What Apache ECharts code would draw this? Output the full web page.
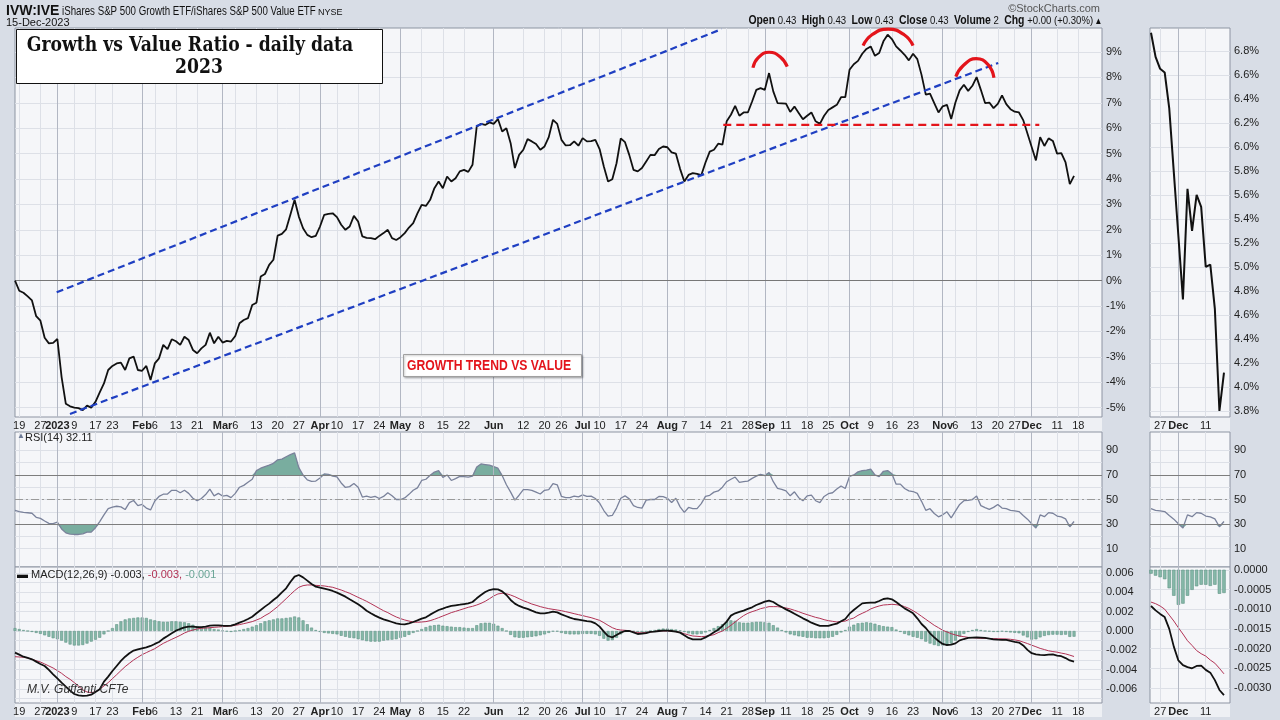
<!DOCTYPE html>
<html>
<head>
<meta charset="utf-8">
<title>Growth vs Value Ratio - daily data 2023</title>
<script src="https://cdn.jsdelivr.net/npm/echarts@6.0.0/dist/echarts.min.js"></script>
<style>
  html, body { margin: 0; padding: 0; background: #d8dde6; }
  #chart { width: 1280px; height: 720px; }
</style>
</head>
<body>
<div id="chart"></div>
<script>
// IVW:IVE ratio, % change since 16-Dec-2022, one value per trading day (index 0 = 16-Dec-2022)
const ratio = [
  0.00, -0.40, -0.48, -0.62, -0.78, -1.40, -1.58, -2.25, -2.47, -2.45,
  -2.30, -3.80, -4.85, -4.95, -5.00, -5.02, -5.10, -4.92, -5.00, -4.77,
  -4.40, -4.05, -3.52, -3.36, -3.26, -3.23, -3.52, -3.06, -2.99, -3.52,
  -3.55, -3.36, -3.91, -3.26, -3.06, -2.53, -2.70, -2.31, -2.39, -2.53,
  -2.21, -2.34, -2.73, -2.86, -2.67, -2.53, -2.05, -2.47, -2.21, -2.44,
  -2.37, -2.40, -2.18, -1.68, -1.55, -1.48, -0.96, -0.87, 0.16, 0.26,
  0.62, 0.82, 1.77, 1.84, 2.02, 2.59, 3.18, 2.52, 2.06, 1.80,
  1.71, 1.76, 2.13, 2.59, 2.63, 2.65, 2.50, 2.20, 2.00, 2.13,
  2.55, 2.33, 1.74, 1.68, 1.67, 1.63, 1.76, 1.87, 2.00, 1.67,
  1.60, 1.71, 1.87, 2.09, 2.26, 2.65, 2.98, 2.94, 3.18, 3.64,
  3.90, 3.64, 4.10, 3.90, 4.03, 4.30, 4.36, 4.28, 4.56, 6.07,
  6.17, 6.13, 6.23, 6.17, 6.36, 5.87, 6.00, 5.41, 4.43, 4.95,
  5.15, 5.57, 5.48, 5.38, 5.15, 5.28, 5.65, 6.33, 6.17, 5.54,
  5.32, 5.33, 5.48, 5.31, 5.61, 5.48, 5.49, 5.54, 5.18, 4.49,
  3.90, 3.99, 4.62, 5.60, 5.45, 4.95, 4.36, 4.30, 4.43, 4.69,
  4.95, 4.94, 5.18, 5.28, 5.25, 5.05, 5.00, 4.40, 3.90, 4.16,
  4.23, 4.20, 4.15, 4.65, 5.08, 5.15, 5.39, 5.35, 6.27, 6.53,
  6.88, 6.49, 6.62, 6.62, 7.05, 7.51, 7.58, 7.51, 8.17, 7.45,
  6.99, 6.98, 6.97, 6.64, 6.85, 6.60, 6.35, 6.49, 6.62, 6.27,
  6.17, 6.49, 6.72, 6.82, 6.92, 7.22, 7.22, 8.30, 8.52, 8.65,
  8.93, 9.12, 9.22, 8.85, 8.96, 9.42, 9.68, 9.51, 9.22, 9.06,
  8.89, 8.67, 8.93, 8.72, 8.10, 7.32, 7.36, 6.99, 6.62, 6.86,
  6.92, 6.36, 7.01, 7.49, 7.71, 7.47, 7.67, 8.01, 7.51, 6.99,
  7.01, 6.79, 6.96, 7.29, 6.95, 6.75, 6.65, 6.62, 6.32, 5.79,
  5.26, 4.73, 5.65, 5.30, 5.60, 5.50, 5.00, 5.02, 4.65, 3.80,
  4.12
];

// RSI(14)
const rsi = [
  41.2, 40.2, 39.5, 39.2, 38.8, 35.5, 34.6, 32.5, 30.6, 30.3,
  31.6, 26.0, 22.8, 21.8, 21.5, 21.5, 22.0, 23.4, 23.4, 27.0,
  32.0, 37.5, 42.6, 43.8, 44.5, 44.0, 41.8, 47.5, 49.2, 45.0,
  46.0, 43.0, 41.5, 48.8, 52.5, 54.3, 54.5, 57.5, 57.5, 55.5,
  57.5, 55.0, 51.0, 49.0, 50.8, 54.0, 58.5, 53.0, 55.0, 52.8,
  53.3, 51.5, 55.0, 60.0, 61.5, 64.0, 66.5, 73.5, 75.5, 76.8,
  78.0, 79.5, 82.3, 82.9, 84.8, 86.5, 88.0, 76.0, 70.0, 66.0,
  64.8, 65.0, 67.5, 70.8, 70.5, 69.0, 68.5, 63.5, 59.8, 60.5,
  63.0, 60.0, 52.0, 52.7, 51.8, 52.6, 50.8, 52.5, 55.5, 53.0,
  50.0, 50.0, 51.3, 54.2, 57.5, 59.5, 65.5, 66.5, 69.8, 72.3,
  73.5, 68.0, 70.0, 65.5, 67.0, 68.8, 68.6, 68.2, 69.0, 76.5,
  79.0, 78.5, 78.0, 76.8, 75.5, 69.5, 62.0, 56.0, 49.5, 53.5,
  58.0, 58.0, 57.5, 56.0, 54.5, 57.5, 58.0, 63.0, 62.0, 52.5,
  51.6, 51.6, 52.8, 52.2, 53.8, 52.5, 52.7, 50.8, 47.0, 41.0,
  36.5, 37.0, 43.0, 51.0, 53.0, 50.5, 45.0, 43.5, 43.0, 49.5,
  50.0, 50.0, 52.5, 52.3, 51.0, 47.5, 51.0, 44.0, 39.5, 43.5,
  42.6, 42.6, 46.7, 52.5, 53.4, 56.0, 57.0, 60.0, 64.5, 66.5,
  68.3, 64.0, 64.5, 65.0, 67.2, 69.0, 70.5, 69.5, 72.0, 64.5,
  59.0, 58.2, 57.0, 53.0, 56.3, 51.5, 49.0, 53.0, 53.6, 49.0,
  47.5, 52.5, 54.7, 55.5, 58.5, 61.0, 59.0, 68.8, 70.0, 72.5,
  73.6, 74.0, 74.7, 70.0, 68.6, 73.0, 73.6, 71.0, 62.5, 62.5,
  59.0, 57.0, 56.5, 55.0, 48.5, 41.2, 42.5, 38.6, 35.9, 37.5,
  40.0, 35.0, 40.5, 46.0, 49.0, 49.3, 50.0, 52.8, 45.0, 43.4,
  41.9, 43.6, 46.0, 43.0, 42.5, 41.2, 40.8, 40.2, 37.0, 34.0,
  30.2, 26.8, 37.5, 36.0, 39.3, 38.8, 36.5, 35.8, 34.2, 27.8,
  32.1
];

// MACD(12,26,9), values in thousandths
const macd = [
  -2.24, -2.45, -2.66, -2.79, -2.93, -3.17, -3.41, -3.62, -4.03, -4.48,
  -4.90, -5.34, -5.76, -6.17, -6.52, -6.66, -6.72, -6.69, -6.59, -6.31,
  -6.03, -5.24, -4.72, -4.14, -3.62, -3.10, -2.66, -2.31, -2.03, -1.90,
  -1.79, -1.69, -1.55, -1.34, -1.14, -0.79, -0.52, -0.24, 0.03, 0.21,
  0.38, 0.45, 0.45, 0.41, 0.41, 0.45, 0.55, 0.59, 0.59, 0.55,
  0.52, 0.55, 0.69, 0.86, 1.03, 1.24, 1.48, 1.83, 2.17, 2.52,
  2.83, 3.21, 3.55, 4.00, 4.41, 5.07, 5.62, 5.79, 5.55, 5.21,
  4.86, 4.59, 4.48, 4.38, 4.28, 4.14, 3.97, 3.76, 3.55, 3.28,
  3.03, 2.76, 2.45, 2.10, 1.83, 1.59, 1.38, 1.21, 1.07, 0.93,
  0.79, 0.72, 0.69, 0.79, 0.93, 1.10, 1.28, 1.41, 1.69, 1.93,
  2.17, 2.31, 2.48, 2.59, 2.66, 2.72, 2.79, 2.86, 3.00, 3.38,
  3.72, 4.03, 4.24, 4.34, 4.31, 4.10, 3.72, 3.21, 2.83, 2.59,
  2.41, 2.28, 2.10, 1.93, 1.83, 1.83, 1.90, 2.00, 1.93, 1.72,
  1.55, 1.38, 1.24, 1.17, 1.10, 1.03, 0.97, 0.79, 0.45, -0.07,
  -0.52, -0.66, -0.41, -0.17, 0.00, 0.00, -0.14, -0.31, -0.28, -0.21,
  -0.10, -0.07, 0.00, 0.03, 0.03, 0.00, -0.07, -0.17, -0.45, -0.72,
  -0.86, -0.86, -0.86, -0.66, -0.41, -0.14, 0.14, 0.52, 0.97, 1.59,
  1.83, 1.97, 2.10, 2.28, 2.45, 2.69, 2.86, 3.03, 3.14, 3.00,
  2.72, 2.48, 2.24, 2.03, 1.79, 1.55, 1.31, 1.10, 0.86, 0.69,
  0.52, 0.52, 0.52, 0.66, 0.76, 1.00, 1.24, 1.79, 2.17, 2.52,
  2.86, 2.90, 2.93, 2.93, 3.10, 3.31, 3.38, 3.28, 3.00, 2.66,
  2.34, 2.10, 1.83, 1.31, 0.72, 0.31, -0.24, -0.66, -1.03, -1.34,
  -1.45, -1.41, -1.28, -0.97, -0.83, -0.72, -0.69, -0.66, -0.69, -0.72,
  -0.79, -0.86, -0.90, -0.91, -0.92, -1.03, -1.12, -1.20, -1.50, -1.95,
  -2.30, -2.42, -2.47, -2.50, -2.44, -2.43, -2.54, -2.61, -2.80, -3.05,
  -3.18
];

// signal line, thousandths
const signal = [
  -2.66, -2.69, -2.72, -2.79, -2.93, -3.07, -3.21, -3.41, -3.62, -3.83,
  -4.10, -4.38, -4.72, -5.00, -5.34, -5.69, -6.10, -6.31, -6.38, -6.28,
  -6.03, -5.69, -5.34, -4.93, -4.52, -4.10, -3.69, -3.34, -3.00, -2.72,
  -2.45, -2.24, -2.03, -1.83, -1.55, -1.28, -1.07, -0.86, -0.66, -0.45,
  -0.21, -0.03, 0.10, 0.21, 0.28, 0.31, 0.34, 0.38, 0.41, 0.45,
  0.48, 0.52, 0.59, 0.66, 0.76, 0.86, 0.97, 1.14, 1.31, 1.59,
  1.83, 2.17, 2.52, 2.93, 3.34, 3.76, 4.17, 4.52, 4.69, 4.76,
  4.76, 4.72, 4.69, 4.66, 4.59, 4.52, 4.38, 4.24, 4.07, 3.90,
  3.69, 3.48, 3.28, 3.07, 2.83, 2.59, 2.34, 2.10, 1.90, 1.66,
  1.45, 1.28, 1.14, 1.03, 0.93, 0.90, 0.93, 0.97, 1.07, 1.21,
  1.38, 1.55, 1.72, 1.90, 2.03, 2.17, 2.31, 2.45, 2.55, 2.69,
  2.86, 3.07, 3.34, 3.62, 3.83, 3.90, 3.86, 3.72, 3.55, 3.34,
  3.14, 2.97, 2.79, 2.66, 2.52, 2.41, 2.31, 2.24, 2.17, 2.10,
  2.00, 1.90, 1.79, 1.69, 1.59, 1.48, 1.38, 1.24, 1.10, 0.86,
  0.59, 0.34, 0.17, 0.10, 0.07, 0.03, -0.10, -0.17, -0.20, -0.15,
  -0.10, -0.04, 0.00, 0.00, 0.00, -0.03, -0.07, -0.14, -0.28, -0.41,
  -0.52, -0.55, -0.59, -0.55, -0.48, -0.38, -0.17, 0.00, 0.28, 0.59,
  0.93, 1.28, 1.59, 1.83, 2.00, 2.14, 2.31, 2.41, 2.52, 2.52,
  2.52, 2.45, 2.38, 2.28, 2.14, 2.00, 1.83, 1.69, 1.55, 1.41,
  1.31, 1.17, 1.07, 1.00, 0.93, 0.97, 1.03, 1.21, 1.34, 1.62,
  1.83, 2.03, 2.28, 2.45, 2.59, 2.69, 2.72, 2.76, 2.72, 2.66,
  2.52, 2.34, 2.10, 1.83, 1.52, 1.21, 0.90, 0.59, 0.34, 0.07,
  -0.10, -0.28, -0.41, -0.52, -0.59, -0.66, -0.69, -0.72, -0.76, -0.76,
  -0.78, -0.79, -0.80, -0.81, -0.82, -0.86, -0.92, -1.00, -1.15, -1.30,
  -1.47, -1.63, -1.80, -1.92, -2.05, -2.13, -2.19, -2.29, -2.37, -2.50,
  -2.64
];

// histogram, thousandths
const hist = [
  0.30, 0.20, 0.10, 0.00, -0.10, -0.20, -0.30, -0.45, -0.60, -0.75,
  -0.85, -1.00, -1.20, -1.40, -1.50, -1.50, -1.45, -1.30, -1.10, -0.90,
  -0.70, -0.35, 0.00, 0.30, 0.70, 1.00, 1.20, 1.30, 1.35, 1.40,
  1.40, 1.35, 1.20, 1.10, 1.00, 0.95, 0.95, 1.00, 1.00, 0.95,
  0.90, 0.80, 0.65, 0.50, 0.40, 0.35, 0.35, 0.20, 0.15, 0.05,
  -0.05, -0.10, 0.00, 0.10, 0.20, 0.30, 0.45, 0.60, 0.80, 1.00,
  1.10, 1.20, 1.30, 1.30, 1.35, 1.40, 1.50, 1.40, 1.10, 0.70,
  0.35, 0.10, -0.10, -0.20, -0.25, -0.30, -0.35, -0.50, -0.60, -0.70,
  -0.75, -0.85, -0.95, -1.05, -1.10, -1.10, -1.10, -1.00, -0.95, -0.90,
  -0.85, -0.70, -0.60, -0.40, -0.20, 0.00, 0.20, 0.40, 0.55, 0.60,
  0.65, 0.55, 0.50, 0.45, 0.40, 0.40, 0.35, 0.30, 0.30, 0.60,
  0.80, 0.85, 0.85, 0.75, 0.55, 0.30, 0.00, -0.40, -0.65, -0.70,
  -0.70, -0.65, -0.60, -0.55, -0.45, -0.35, -0.20, -0.05, -0.05, -0.20,
  -0.30, -0.35, -0.35, -0.35, -0.30, -0.30, -0.30, -0.35, -0.50, -0.80,
  -1.00, -0.95, -0.70, -0.35, -0.10, 0.00, -0.05, -0.10, -0.30, -0.20,
  0.00, 0.10, 0.20, 0.25, 0.25, 0.20, 0.15, 0.05, -0.10, -0.25,
  -0.35, -0.35, -0.30, -0.15, 0.10, 0.30, 0.50, 0.70, 0.95, 1.10,
  1.05, 0.90, 0.85, 0.85, 0.90, 0.95, 0.95, 0.90, 0.85, 0.60,
  0.35, 0.10, -0.15, -0.35, -0.45, -0.55, -0.60, -0.70, -0.70, -0.75,
  -0.75, -0.75, -0.70, -0.60, -0.40, -0.15, 0.10, 0.45, 0.65, 0.80,
  0.85, 0.90, 0.85, 0.75, 0.60, 0.50, 0.45, 0.40, 0.15, -0.10,
  -0.30, -0.45, -0.60, -0.70, -0.85, -1.10, -1.30, -1.45, -1.55, -1.50,
  -1.40, -1.30, -1.00, -0.60, -0.30, -0.10, 0.10, 0.20, 0.10, 0.00,
  -0.05, -0.10, -0.10, -0.05, -0.10, -0.15, -0.19, -0.24, -0.47, -0.66,
  -0.89, -0.86, -0.66, -0.51, -0.42, -0.38, -0.38, -0.41, -0.38, -0.61,
  -0.59
];

// x axis ticks: [trading day index, label]
const monthTicks = [[10, '2023'], [30, 'Feb'], [49, 'Mar'], [72, 'Apr'], [91, 'May'], [113, 'Jun'],
  [134, 'Jul'], [154, 'Aug'], [177, 'Sep'], [197, 'Oct'], [219, 'Nov'], [240, 'Dec']];
const dayTicks = [[1, '19'], [6, '27'], [14, '9'], [19, '17'], [23, '23'], [33, '6'], [38, '13'], [43, '21'],
  [52, '6'], [57, '13'], [62, '20'], [67, '27'], [76, '10'], [81, '17'], [86, '24'], [96, '8'], [101, '15'],
  [106, '22'], [120, '12'], [125, '20'], [129, '26'], [138, '10'], [143, '17'], [148, '24'], [158, '7'],
  [163, '14'], [168, '21'], [173, '28'], [182, '11'], [187, '18'], [192, '25'], [202, '9'], [207, '16'],
  [212, '23'], [222, '6'], [227, '13'], [232, '20'], [236, '27'], [246, '11'], [251, '18']];
const zoomMonthTicks = [[240, 'Dec']];
const zoomDayTicks = [[236, '27'], [246, '11']];
const zoomStart = 234;

// y axis ticks
const pctTicks = [-5, -4, -3, -2, -1, 0, 1, 2, 3, 4, 5, 6, 7, 8, 9];
const zoomPctTicks = [3.8, 4.0, 4.2, 4.4, 4.6, 4.8, 5.0, 5.2, 5.4, 5.6, 5.8, 6.0, 6.2, 6.4, 6.6, 6.8];
const rsiLabels = [10, 30, 50, 70, 90];
const rsiGrid = [10, 20, 30, 40, 50, 60, 70, 80, 90];
const macdLabels = [-6, -4, -2, 0, 2, 4, 6];
const macdGrid = [-7, -6, -5, -4, -3, -2, -1, 0, 1, 2, 3, 4, 5, 6];
const zoomMacdTicks = [0, -0.5, -1, -1.5, -2, -2.5, -3];

// hand-drawn annotations on the ratio panel, [day index, %]
const upperChannel = [[9.84, -0.46], [166.8, 9.9]];
const lowerChannel = [[12.98, -5.25], [232.1, 8.57]];
const neckline = [[167.2, 6.13], [241.8, 6.13]];
const topArcs = [
  [[174.2, 8.38], [175.4, 8.77], [178.0, 8.99], [180.6, 8.81], [182.3, 8.42]],
  [[200.2, 9.25], [202.3, 9.68], [206.1, 9.90], [209.9, 9.68], [212.0, 9.25]],
  [[222.1, 8.03], [223.8, 8.46], [226.9, 8.74], [229.7, 8.50], [231.1, 7.99]]
];

const FONT = '"Liberation Sans", Arial, sans-serif';
const GRID_BG = '#f5f6f9';
const GRID_BORDER = '#8d94a2';
const SPLIT = '#dde0e7';
const MONTH = '#b2b7c3';

const chart = echarts.init(document.getElementById('chart'));

const labelOf = {};
monthTicks.concat(zoomMonthTicks).forEach(t => { labelOf[t[0]] = '{m|' + t[1] + '}'; });
dayTicks.concat(zoomDayTicks).forEach(t => { labelOf[t[0]] = t[1]; });

const mainTicks = monthTicks.concat(dayTicks).map(t => t[0]).sort((a, b) => a - b);
const zoomTicks = zoomMonthTicks.concat(zoomDayTicks).map(t => t[0]).sort((a, b) => a - b);

const panels = [{ top: 28, height: 389 }, { top: 432, height: 135 }, { top: 567, height: 136 }];
const gridOf = (left, width) => panels.map(p => ({
  left: left, width: width, top: p.top, height: p.height,
  show: true, backgroundColor: GRID_BG, borderColor: GRID_BORDER, borderWidth: 1
}));

const xAxisOf = (gridIndex, min, max, ticks, showLabel) => ({
  type: 'value', gridIndex: gridIndex, min: min, max: max,
  axisLine: { show: false },
  axisTick: { show: false, customValues: ticks },
  splitLine: { show: true, lineStyle: { color: SPLIT, width: 1 } },
  axisLabel: {
    show: showLabel, customValues: ticks, margin: 3,
    formatter: v => labelOf[v] || '',
    fontFamily: FONT, fontSize: 11, color: '#222',
    rich: { m: { fontFamily: FONT, fontSize: 11, fontWeight: 'bold', color: '#222' } }
  }
});

const yAxisOf = (gridIndex, min, max, grid, labels, fmt) => ({
  type: 'value', gridIndex: gridIndex, min: min, max: max, position: 'right',
  axisLine: { show: false },
  axisTick: { show: false, customValues: grid },
  splitLine: { show: true, lineStyle: { color: SPLIT, width: 1 } },
  axisLabel: {
    customValues: labels, formatter: fmt, margin: 4,
    fontFamily: FONT, fontSize: 11, color: '#222'
  }
});

const pairs = arr => arr.map((v, i) => [i, v]);
const zoomPairs = arr => pairs(arr).slice(zoomStart);

const guideLines = (xi, months, extra) => ({
  type: 'line', xAxisIndex: xi, yAxisIndex: xi, data: [], silent: true, z: 1,
  markLine: {
    silent: true, symbol: ['none', 'none'], animation: false,
    label: { show: false },
    lineStyle: { color: MONTH, width: 1, type: 'solid' },
    data: months.map(t => ({ xAxis: t[0] })).concat(extra || [])
  }
});

const rsiRefs = [
  { yAxis: 70, lineStyle: { color: '#7d7d7d', width: 1.2, type: 'solid' } },
  { yAxis: 30, lineStyle: { color: '#7d7d7d', width: 1.2, type: 'solid' } },
  { yAxis: 50, lineStyle: { color: '#9a9a9a', width: 1, type: [8, 3, 2, 3] } }
];
const zeroRef = [{ yAxis: 0, lineStyle: { color: '#777', width: 1.2, type: 'solid' } }];

const rsiSeries = (xi, data) => [
  {
    type: 'line', xAxisIndex: xi, yAxisIndex: xi, symbol: 'none', z: 2,
    data: data.map(d => [d[0], Math.max(d[1], 70)]),
    lineStyle: { width: 0, opacity: 0 },
    areaStyle: { color: '#79ad9f', opacity: 1, origin: 70 }
  },
  {
    type: 'line', xAxisIndex: xi, yAxisIndex: xi, symbol: 'none', z: 2,
    data: data.map(d => [d[0], Math.min(d[1], 30)]),
    lineStyle: { width: 0, opacity: 0 },
    areaStyle: { color: '#79ad9f', opacity: 1, origin: 30 }
  },
  {
    type: 'line', xAxisIndex: xi, yAxisIndex: xi, symbol: 'none', z: 4, data: data,
    lineStyle: { color: '#7a829b', width: 1.3 }
  }
];

const macdSeries = (xi, barW, h, m, s) => [
  {
    type: 'bar', xAxisIndex: xi, yAxisIndex: xi, data: h, barWidth: barW, z: 2,
    itemStyle: { color: '#86b8a9', borderColor: '#5f9485', borderWidth: 0.6 }
  },
  {
    type: 'line', xAxisIndex: xi, yAxisIndex: xi, symbol: 'none', z: 4, data: s,
    lineStyle: { color: '#b23355', width: 1 }
  },
  {
    type: 'line', xAxisIndex: xi, yAxisIndex: xi, symbol: 'none', z: 5, data: m,
    lineStyle: { color: '#111', width: 1.8 }
  }
];

const annotation = (data, color, width, type, smooth) => ({
  type: 'line', xAxisIndex: 0, yAxisIndex: 0, symbol: 'none', z: 6, smooth: !!smooth,
  data: data, lineStyle: { color: color, width: width, type: type }
});

const pctFmt = v => v + '%';
const rsiFmt = v => String(v);

const option = {
  animation: false,
  backgroundColor: '#d8dde6',
  grid: gridOf(15, 1087).concat(gridOf(1150, 80)),
  xAxis: [
    xAxisOf(0, 0, 256.6, mainTicks, true),
    xAxisOf(1, 0, 256.6, mainTicks, false),
    xAxisOf(2, 0, 256.6, mainTicks, true),
    xAxisOf(3, 233.78, 251.32, zoomTicks, true),
    xAxisOf(4, 233.78, 251.32, zoomTicks, false),
    xAxisOf(5, 233.78, 251.32, zoomTicks, true)
  ],
  yAxis: [
    yAxisOf(0, -5.37, 9.945, pctTicks, pctTicks, pctFmt),
    yAxisOf(1, -5, 105, rsiGrid, rsiLabels, rsiFmt),
    yAxisOf(2, -7.45, 6.62, macdGrid, macdLabels, v => (v / 1000).toFixed(3)),
    yAxisOf(3, 3.75, 6.99, zoomPctTicks, zoomPctTicks, v => v.toFixed(1) + '%'),
    yAxisOf(4, -5, 105, rsiGrid, rsiLabels, rsiFmt),
    yAxisOf(5, -3.38, 0.07, zoomMacdTicks, zoomMacdTicks, v => (v / 1000).toFixed(4))
  ],
  series: [
    guideLines(0, monthTicks, zeroRef),
    guideLines(1, monthTicks, rsiRefs),
    guideLines(2, monthTicks),
    guideLines(3, zoomMonthTicks),
    guideLines(4, zoomMonthTicks, rsiRefs),
    guideLines(5, zoomMonthTicks),
    {
      type: 'line', xAxisIndex: 0, yAxisIndex: 0, symbol: 'none', z: 5, data: pairs(ratio),
      lineStyle: { color: '#111', width: 1.8 }
    },
    {
      type: 'line', xAxisIndex: 3, yAxisIndex: 3, symbol: 'none', z: 5, data: zoomPairs(ratio),
      lineStyle: { color: '#111', width: 2 }
    },
    annotation(upperChannel, '#1f3fc2', 2.2, [7, 4]),
    annotation(lowerChannel, '#1f3fc2', 2.2, [7, 4]),
    annotation(neckline, '#e3141b', 2.2, [8, 5]),
    ...topArcs.map(a => annotation(a, '#e3141b', 3.2, 'solid', true)),
    ...rsiSeries(1, pairs(rsi)),
    ...rsiSeries(4, zoomPairs(rsi)),
    ...macdSeries(2, 3, pairs(hist), pairs(macd), pairs(signal)),
    ...macdSeries(5, 3.4, zoomPairs(hist), zoomPairs(macd), zoomPairs(signal))
  ],
  graphic: [
    // axis label strips
    { type: 'rect', shape: { x: 15, y: 417, width: 1087, height: 15 }, style: { fill: '#eef0f4' }, z: -1 },
    { type: 'rect', shape: { x: 1150, y: 417, width: 80, height: 15 }, style: { fill: '#eef0f4' }, z: -1 },
    { type: 'rect', shape: { x: 15, y: 703, width: 1087, height: 14 }, style: { fill: '#eef0f4' }, z: -1 },
    { type: 'rect', shape: { x: 1150, y: 703, width: 80, height: 14 }, style: { fill: '#eef0f4' }, z: -1 },
    // header
    { type: 'text', x: 6, y: 4, style: { text: 'IVW:IVE', font: 'bold 14px ' + FONT, fill: '#111' } },
    { type: 'text', x: 62, y: 6, scaleX: 0.81, style: { text: 'iShares S&P 500 Growth ETF/iShares S&P 500 Value ETF', font: '12px ' + FONT, fill: '#111' } },
    { type: 'text', x: 318, y: 8, style: { text: 'NYSE', font: '9px ' + FONT, fill: '#111' } },
    { type: 'text', x: 6, y: 17, style: { text: '15-Dec-2023', font: '11px ' + FONT, fill: '#111' } },
    { type: 'text', x: 1100, y: 3, style: { text: '\u00a9StockCharts.com', font: '11px ' + FONT, fill: '#555', align: 'right' } },
    {
      type: 'text', x: 1101, y: 15, scaleX: 0.87,
      style: {
        text: '{b|Open} 0.43  {b|High} 0.43  {b|Low} 0.43  {b|Close} 0.43  {b|Volume} 2  {b|Chg} +0.00 (+0.30%) \u25b4',
        font: '11px ' + FONT, fill: '#111', align: 'right',
        rich: { b: { font: 'bold 12px ' + FONT, fill: '#111' } }
      }
    },
    // title box
    { type: 'rect', z: 20, shape: { x: 16.5, y: 29.5, width: 366, height: 54 }, style: { fill: '#fff', stroke: '#111', lineWidth: 1 } },
    { type: 'text', z: 21, x: 190, y: 46, scaleX: 0.86, style: { text: 'Growth vs Value Ratio - daily data', font: 'bold 20px "DejaVu Serif", serif', fill: '#111', align: 'center', verticalAlign: 'middle' } },
    { type: 'text', z: 21, x: 199, y: 68, scaleX: 0.86, style: { text: '2023', font: 'bold 20px "DejaVu Serif", serif', fill: '#111', align: 'center', verticalAlign: 'middle' } },
    // trend note
    { type: 'rect', z: 20, shape: { x: 403.5, y: 354.5, width: 178, height: 22 }, style: { fill: '#fff', stroke: '#a0a0a0', lineWidth: 1, shadowColor: 'rgba(0,0,0,0.25)', shadowBlur: 2, shadowOffsetX: 1, shadowOffsetY: 1 } },
    { type: 'text', z: 21, x: 407, y: 366, scaleX: 0.87, style: { text: 'GROWTH TREND VS VALUE', font: 'bold 14px ' + FONT, fill: '#e3141b', verticalAlign: 'middle' } },
    // panel legends
    { type: 'text', z: 21, x: 17, y: 432, style: { text: '\u25b2', font: '8px ' + FONT, fill: '#6d7a96' } },
    { type: 'text', z: 21, x: 25, y: 432, style: { text: 'RSI(14) 32.11', font: '11px ' + FONT, fill: '#222' } },
    {
      type: 'text', z: 21, x: 17, y: 569,
      style: {
        text: '\u25ac {k|MACD(12,26,9) -0.003,} {r|-0.003,} {g|-0.001}',
        font: '11px ' + FONT, fill: '#111',
        rich: {
          k: { font: '11px ' + FONT, fill: '#222' },
          r: { font: '11px ' + FONT, fill: '#b23355' },
          g: { font: '11px ' + FONT, fill: '#6aa596' }
        }
      }
    },
    { type: 'text', z: 21, x: 27, y: 684, style: { text: 'M.V. Guffanti CFTe', font: 'italic 12px ' + FONT, fill: '#333' } }
  ]
};

chart.setOption(option);
</script>
</body>
</html>
